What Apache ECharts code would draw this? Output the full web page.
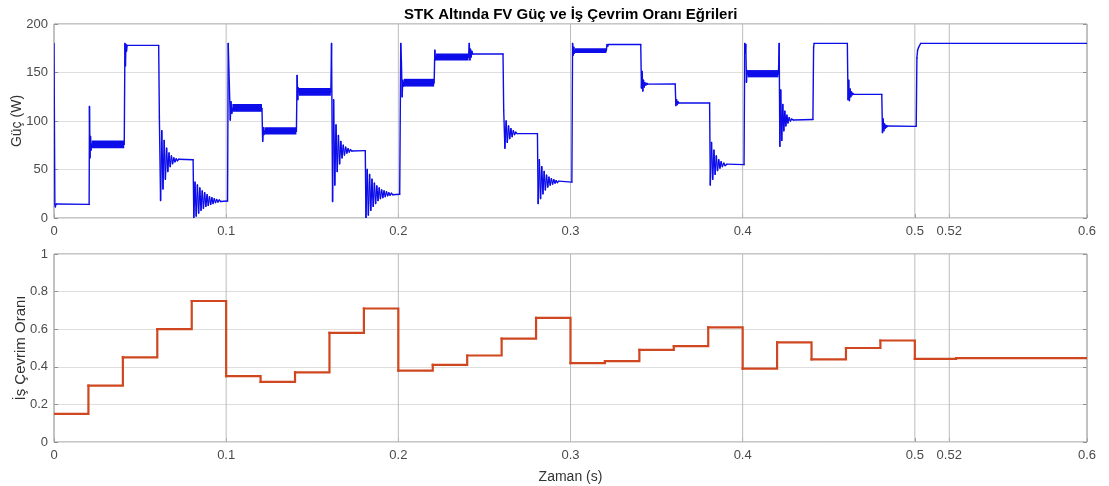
<!DOCTYPE html>
<html>
<head>
<meta charset="utf-8">
<script src="https://cdn.jsdelivr.net/npm/echarts@6/dist/echarts.min.js"></script>
<style>
html,body{margin:0;padding:0;background:#fff;}
#chart{width:1109px;height:486px;}
</style>
</head>
<body>
<div id="chart"></div>
<script>
// ---------- data ----------
const titleText = 'STK Altında FV Güç ve İş Çevrim Oranı Eğrileri';
const xTicks = [0, 0.1, 0.2, 0.3, 0.4, 0.5, 0.52, 0.6];
const powerTicks = [0, 50, 100, 150, 200];
const dutyTicks = [0, 0.2, 0.4, 0.6, 0.8, 1];

// FV power trace [time s, power W]
const powerTrace = [
  [0,180],[0.0005,14],[0.0008,11.5],[0.0012,14.5],[0.0204,14],
  [0.0206,115],[0.0209,62],[0.0212,84],[0.0215,70],[0.0218,76],[0.0408,76],
  [0.0412,180],[0.0415,157],[0.0418,179],[0.0421,172],[0.0425,178],[0.0608,178],
  [0.0612,104],[0.0619,18],[0.0626,90],[0.0633,30],[0.064,80],[0.0647,40],[0.0654,72],[0.0661,48],
  [0.0668,67],[0.0675,53],[0.0682,64],[0.0689,56],[0.0696,62],[0.0703,58],[0.071,61],[0.0717,59],
  [0.0724,60.5],[0.0808,60],
  [0.0812,0],[0.0819,37],[0.0826,2],[0.0833,34],[0.084,5],[0.0847,31],[0.0854,8],[0.0861,28],
  [0.0868,10],[0.0875,26],[0.0882,12],[0.0889,24],[0.0896,13],[0.0903,22],[0.091,14],[0.0917,21],
  [0.0924,15],[0.0931,20],[0.0938,16],[0.0945,19],[0.0952,16.5],[0.096,18.5],[0.0968,17],[0.1008,17.5],
  [0.1012,180],[0.1018,140],[0.1024,101],[0.1028,120],[0.1033,108],[0.1036,113],[0.1208,113],
  [0.1212,79],[0.1216,93],[0.1219,86],[0.1222,89.5],[0.1408,89.5],
  [0.1412,147],[0.1416,122],[0.1419,134],[0.1422,130],[0.1608,130],
  [0.1612,180],[0.1618,17],[0.1624,122],[0.1631,34],[0.1638,96],[0.1645,48],[0.1652,85],[0.1659,56],
  [0.1666,79],[0.1673,62],[0.168,75],[0.1687,65],[0.1694,73],[0.1701,67],[0.1708,71.5],[0.1715,68],
  [0.1722,70.5],[0.173,69],[0.1808,69.5],
  [0.1812,0],[0.1819,50],[0.1826,3],[0.1833,45],[0.184,8],[0.1847,40],[0.1854,12],[0.1861,36],
  [0.1868,15],[0.1875,33],[0.1882,18],[0.1889,31],[0.1896,20],[0.1903,29],[0.191,21],[0.1917,28],
  [0.1924,22],[0.1931,27],[0.1938,23],[0.1945,26],[0.1952,23.5],[0.196,25.5],[0.1968,24],[0.2008,24.5],
  [0.2014,180],[0.2018,160],[0.2022,125],[0.2026,142],[0.2029,136],[0.2032,139.5],[0.2208,139.5],
  [0.2212,173],[0.2215,163],[0.2218,166],[0.2408,166],
  [0.2412,180],[0.2416,163],[0.2419,174],[0.2423,166],[0.2427,172],[0.2432,169],[0.2608,169],
  [0.2612,111],[0.2619,72],[0.2626,100],[0.2633,78],[0.264,95],[0.2647,82],[0.2654,92],[0.2661,84],
  [0.2668,90],[0.2675,86],[0.2682,88.5],[0.269,87],[0.2808,87],
  [0.2812,15],[0.2819,60],[0.2826,20],[0.2833,53],[0.284,25],[0.2847,48],[0.2854,29],[0.2861,44],
  [0.2868,32],[0.2875,42],[0.2882,34],[0.2889,40.5],[0.2896,35],[0.2903,39.5],[0.291,36],[0.2917,38.5],
  [0.2924,36.5],[0.2932,38],[0.3008,37],
  [0.3012,180],[0.3016,168],[0.3019,176],[0.3022,170],[0.3025,172.5],[0.3208,172.5],
  [0.3212,178.8],[0.3216,177],[0.322,178.8],[0.3408,178.8],
  [0.3412,134],[0.3416,151],[0.342,131],[0.3424,142],[0.3428,135],[0.3432,139.5],[0.3437,137],
  [0.3443,138.8],[0.3448,138],[0.3608,138.2],
  [0.3612,116],[0.3616,122],[0.362,117],[0.3624,120],[0.3628,118.5],[0.3808,118.5],
  [0.3812,34],[0.3819,78],[0.3826,40],[0.3833,70],[0.384,45],[0.3847,64],[0.3854,49],[0.3861,60],
  [0.3868,51.5],[0.3875,58],[0.3882,53],[0.389,56.5],[0.3898,54],[0.3908,55.5],[0.4008,55],
  [0.4012,180],[0.4015,170],[0.4018,179],[0.4022,140],[0.4025,152],[0.4028,148.5],[0.4208,148.5],
  [0.4212,180],[0.4216,74],[0.4221,132],[0.4227,80],[0.4233,117],[0.4239,90],[0.4245,110],[0.4251,95],
  [0.4257,106],[0.4263,98],[0.427,103.5],[0.4277,100],[0.4285,102],[0.4295,101],[0.4408,101.5],
  [0.4412,176],[0.4415,180],[0.4608,180],
  [0.4612,122],[0.4616,142],[0.462,121],[0.4624,133],[0.4628,125],[0.4632,130],[0.4636,127],
  [0.464,128.5],[0.4645,127.5],[0.4808,127.5],
  [0.4812,88],[0.4816,102],[0.482,90],[0.4824,97],[0.4828,92.5],[0.4832,95.5],[0.4836,93.8],
  [0.484,94.8],[0.5008,94.5],
  [0.5012,165],[0.5016,173],[0.5022,176],[0.5034,180],[0.6,180]
];

// high-frequency ripple envelopes [t start, t end, low W, high W]
const rippleBands = [
  [0.0218, 0.0408, 72, 80],
  [0.1036, 0.1208, 109.5, 117.5],
  [0.1222, 0.1408, 86, 93.5],
  [0.1422, 0.1608, 126, 134],
  [0.2032, 0.2208, 135.5, 143.5],
  [0.2218, 0.2408, 162.5, 169.5],
  [0.3025, 0.3208, 170, 175],
  [0.4028, 0.4208, 145, 152.5]
];

// duty cycle steps [start time s, duty]
const dutySteps = [
  [0,0.15],[0.02,0.30],[0.04,0.45],[0.06,0.60],[0.08,0.75],
  [0.10,0.35],[0.12,0.32],[0.14,0.37],[0.16,0.58],[0.18,0.71],
  [0.20,0.38],[0.22,0.41],[0.24,0.46],[0.26,0.55],[0.28,0.66],
  [0.30,0.42],[0.32,0.43],[0.34,0.49],[0.36,0.51],[0.38,0.61],
  [0.40,0.39],[0.42,0.53],[0.44,0.44],[0.46,0.50],[0.48,0.54],
  [0.50,0.442],[0.524,0.446],[0.6,0.446]
];

// ---------- chart ----------
const chart = echarts.init(document.getElementById('chart'), null, {renderer:'canvas'});
const FONT = 'Liberation Sans, Arial, sans-serif';
const labelColor = '#4a4a4a';
const borderColor = '#8f8f8f';
const hGrid = '#dedede';
const vGrid = '#bcbcbc';
const powerColor = '#0d0dea';
const dutyColor = '#d0461f';
const fmt = v => String(Math.round(v * 100) / 100);

function xAxisDef(gridIndex, withName) {
  return {
    type: 'value', gridIndex, min: 0, max: 0.6,
    axisLine: {show: false},
    axisTick: {show: true, inside: true, length: 4, customValues: xTicks, lineStyle:{color: borderColor}},
    axisLabel: {customValues: xTicks, formatter: fmt, color: labelColor, fontFamily: FONT, fontSize: 13, margin: 7},
    splitLine: {show: false},
    name: withName ? 'Zaman (s)' : '',
    nameLocation: 'middle', nameGap: 28,
    nameTextStyle: {color: '#333', fontFamily: FONT, fontSize: 14}
  };
}
function yAxisDef(gridIndex, ticks, name, pos, nameSize, nameGap) {
  const left = pos === 'left';
  return {
    type: 'value', gridIndex, position: pos,
    min: ticks[0], max: ticks[ticks.length-1], interval: ticks[1]-ticks[0],
    axisLine: {show: false},
    axisTick: {show: true, inside: true, length: 4, lineStyle:{color: borderColor}},
    axisLabel: {show: left, formatter: fmt, color: labelColor, fontFamily: FONT, fontSize: 13, margin: 6},
    splitLine: {show: left, lineStyle: {color: hGrid, width: 1}},
    name: left ? name : '',
    nameLocation: 'middle', nameGap: nameGap || 28, nameMoveOverlap: false,
    nameTextStyle: {color: '#333', fontFamily: FONT, fontSize: nameSize || 14}
  };
}

// vertical grid lines at every x tick
function vGridSeries(xi, yi, yRange) {
  return {
    type: 'custom', xAxisIndex: xi, yAxisIndex: yi, data: xTicks, z: 1, silent: true,
    renderItem: function (params, api) {
      const v = api.value(0);
      const a = api.coord([v, yRange[0]]);
      const b = api.coord([v, yRange[1]]);
      return {type: 'line', shape: {x1: a[0], y1: a[1], x2: b[0], y2: b[1]},
              style: {stroke: vGrid, lineWidth: 1}};
    }
  };
}

chart.setOption({
  animation: false,
  backgroundColor: '#ffffff',
  title: {
    text: titleText, left: 399, top: 2,
    textStyle: {fontFamily: FONT, fontSize: 15, fontWeight: 'bold', color: '#000'}
  },
  grid: [
    {left: 54, right: 22, top: 24, height: 194, show: true, borderColor: borderColor, borderWidth: 1,
     backgroundColor: '#fff', containLabel: false, outerBoundsMode: 'none'},
    {left: 54, right: 22, top: 254, height: 188, show: true, borderColor: borderColor, borderWidth: 1,
     backgroundColor: '#fff', containLabel: false, outerBoundsMode: 'none'}
  ],
  xAxis: [xAxisDef(0, false), xAxisDef(1, true)],
  yAxis: [
    yAxisDef(0, powerTicks, 'Güç (W)', 'left', 14, 30),
    yAxisDef(1, dutyTicks, 'İş Çevrim Oranı', 'left', 15, 26),
    yAxisDef(0, powerTicks, '', 'right'),
    yAxisDef(1, dutyTicks, '', 'right')
  ],
  series: [
    vGridSeries(0, 0, [powerTicks[0], powerTicks[powerTicks.length-1]]),
    vGridSeries(1, 1, [dutyTicks[0], dutyTicks[dutyTicks.length-1]]),
    {
      type: 'custom', xAxisIndex: 0, yAxisIndex: 0, data: rippleBands, z: 3, silent: true,
      renderItem: function (params, api) {
        const p1 = api.coord([api.value(0), api.value(3)]);
        const p2 = api.coord([api.value(1), api.value(2)]);
        return {type: 'rect', shape: {x: p1[0], y: p1[1], width: p2[0]-p1[0], height: p2[1]-p1[1]},
                style: {fill: powerColor}};
      }
    },
    {
      // power trace drawn segment by segment (exact, no point merging)
      type: 'custom', xAxisIndex: 0, yAxisIndex: 0, data: powerTrace, z: 4, silent: true, clip: true,
      renderItem: function (params, api) {
        const i = params.dataIndexInside;
        if (i === 0) return {type: 'group', children: []};
        const a = api.coord([api.value(0, i - 1), api.value(1, i - 1)]);
        const b = api.coord([api.value(0), api.value(1)]);
        return {type: 'line', shape: {x1: a[0], y1: a[1], x2: b[0], y2: b[1]},
                style: {stroke: powerColor, lineWidth: 1.4, lineCap: 'round'}};
      }
    },
    {
      // duty cycle, sample-and-hold steps
      type: 'custom', xAxisIndex: 1, yAxisIndex: 1, data: dutySteps, z: 4, silent: true, clip: true,
      renderItem: function (params, api) {
        const i = params.dataIndexInside;
        if (i === 0) return {type: 'group', children: []};
        const a = api.coord([api.value(0, i - 1), api.value(1, i - 1)]);
        const b = api.coord([api.value(0), api.value(1)]);
        return {type: 'polyline', shape: {points: [a, [b[0], a[1]], b]},
                style: {stroke: dutyColor, lineWidth: 2.2, fill: null, lineCap: 'square', lineJoin: 'miter'}};
      }
    }
  ]
});
</script>
</body>
</html>
